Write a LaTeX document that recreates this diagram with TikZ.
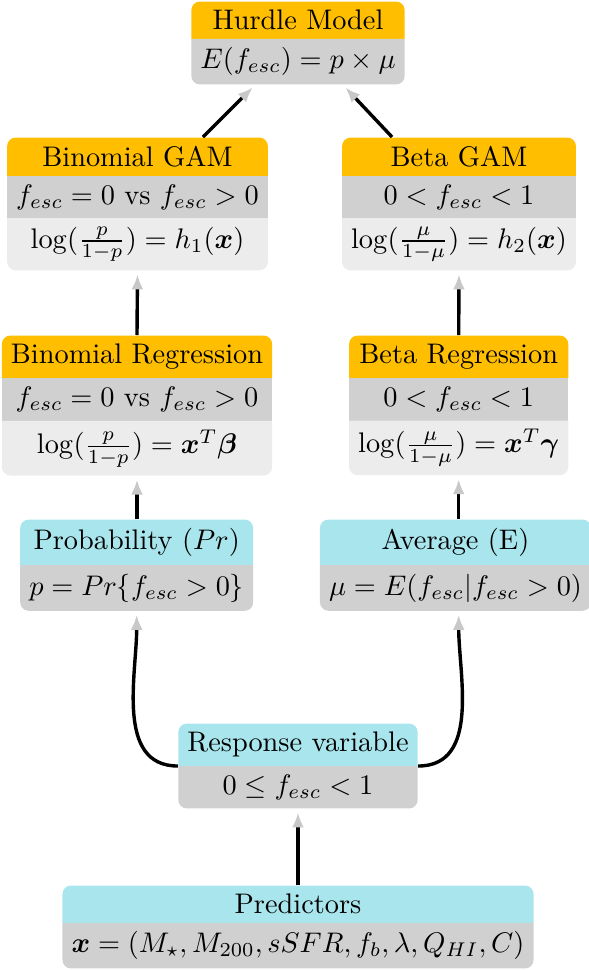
\documentclass[tikz,border=0pt]{standalone}
\usepackage{amsmath,bm}
\usetikzlibrary{shapes.multipart,arrows.meta,calc}
\definecolor{hdrO}{RGB}{255,191,0}
\definecolor{hdrC}{RGB}{169,229,236}
\definecolor{bodyA}{RGB}{208,208,208}
\definecolor{bodyB}{RGB}{236,236,236}
\definecolor{tipG}{RGB}{200,200,200}
\begin{document}
\begin{tikzpicture}[x=0.353pt,y=0.353pt,
  boxthree/.style={rectangle split, rectangle split parts=3, rounded corners=3pt,
    inner xsep=3.2pt, inner ysep=2.85pt, anchor=north, rectangle split part fill={hdrO,bodyA,bodyB}},
  boxtwo/.style={rectangle split, rectangle split parts=2, rounded corners=3pt,
    inner xsep=3.2pt, inner ysep=2.85pt, anchor=north},
  arr/.style={line width=1.2pt, shorten >=1.2pt,
    -{Latex[length=5.3pt,width=4.2pt,color=tipG]}}]
\useasboundingbox (0,0) rectangle (588,-970);

\node[boxtwo, rectangle split part fill={hdrO,bodyA}] (hurdle) at (298,-1)
  {Hurdle Model \nodepart{two} $E(f_{esc}) = p\times\mu$};

\node[boxthree] (bgam) at (137.5,-137)
  {Binomial GAM \nodepart{two} $f_{esc}=0$ vs $f_{esc}>0$
   \nodepart{three} $\log(\frac{p}{1-p}) = h_1(\bm{x})$};
\node[boxthree] (betagam) at (459,-137)
  {Beta GAM \nodepart{two} $0<f_{esc}<1$
   \nodepart{three} $\log(\frac{\mu}{1-\mu}) = h_2(\bm{x})$};

\node[boxthree] (breg) at (137,-335)
  {Binomial Regression \nodepart{two} $f_{esc}=0$ vs $f_{esc}>0$
   \nodepart{three} $\log(\frac{p}{1-p}) = \bm{x}^T\bm{\beta}$};
\node[boxthree] (betareg) at (458.7,-335)
  {Beta Regression \nodepart{two} $0<f_{esc}<1$
   \nodepart{three} $\log(\frac{\mu}{1-\mu}) = \bm{x}^T\bm{\gamma}$};

\node[boxtwo, rectangle split part fill={hdrC,bodyA}] (prob) at (136.7,-519)
  {Probability ($Pr$) \nodepart{two} $p = Pr\{f_{esc}>0\}$};
\node[boxtwo, rectangle split part fill={hdrC,bodyA}] (avg) at (455.5,-519)
  {Average (E) \nodepart{two} $\mu = E(f_{esc}|f_{esc}>0)$};

\node[boxtwo, rectangle split part fill={hdrC,bodyA}] (resp) at (298,-723)
  {Response variable \nodepart{two} $0\leq f_{esc}<1$};

\node[boxtwo, rectangle split part fill={hdrC,bodyA}] (pred) at (298,-885)
  {Predictors \nodepart{two} $\bm{x} = (M_\star, M_{200}, sSFR, f_b, \lambda, Q_{HI}, C)$};

\draw[arr] (pred.north) -- (resp.south);
\draw[arr] (resp.text split west) to[out=180,in=-90] (prob.south);
\draw[arr] (resp.text split east) to[out=0,in=-90] (avg.south -| betareg.south);
\draw[arr] (prob.north -| breg.south) -- (breg.south);
\draw[arr] (avg.north -| betareg.south) -- (betareg.south);
\draw[arr] (breg.north) -- (bgam.south);
\draw[arr] (betareg.north) -- (betagam.south);
\draw[arr] ($(bgam.north west)!0.75!(bgam.north east)$) -- ($(hurdle.south west)!0.3!(hurdle.south east)$);
\draw[arr] ($(betagam.north west)!0.215!(betagam.north east)$) -- ($(hurdle.south west)!0.71!(hurdle.south east)$);
\end{tikzpicture}
\end{document}
